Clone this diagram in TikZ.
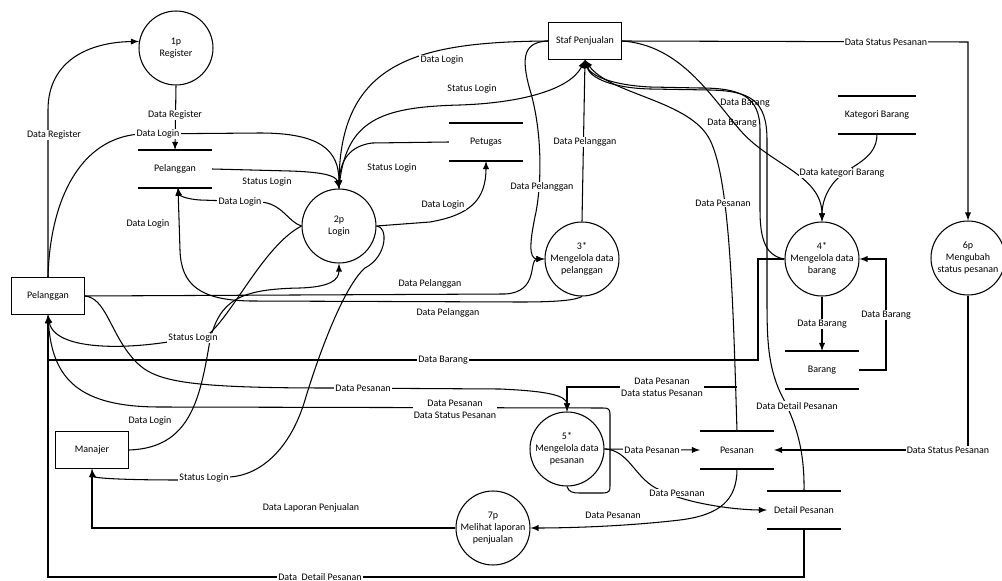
\documentclass[tikz,border=0pt]{standalone}
\usepackage{fontspec}
\setmainfont{Carlito}
\usepackage{tikz}
\usetikzlibrary{shapes.geometric, arrows}

\begin{document}
\begin{tikzpicture}[x=0.02cm, y=-0.02cm, line width=0.6pt, every node/.style={font=\fontsize{5.7}{6.9}\selectfont}]
  \tikzstyle{process} = [circle, draw, minimum size=1.48cm, inner sep=0pt, align=center]
  \tikzstyle{entity} = [rectangle, draw, minimum width=1.46cm, minimum height=0.74cm]
  \tikzstyle{store} = [rectangle, minimum width=1.46cm, minimum height=0.74cm]
  \tikzstyle{arrow} = [draw, -latex]
  \tikzstyle{lbl} = [fill=white, inner sep=0.6pt, align=center]

  \useasboundingbox (0,0) rectangle (1002,581);

  % external entities
  \node (pel) [entity] at (48,296) {Pelanggan};
  \node (mnj) [entity] at (92,450) {Manajer};
  \node (stf) [entity] at (585,41) {Staf Penjualan};

  % processes
  \node (p1) [process] at (176,48) {1p\\Register};
  \node (p2) [process] at (339,226) {2p\\Login};
  \node (p3) [process] at (582,259) {3*\\Mengelola data\\pelanggan};
  \node (p4) [process] at (822,259) {4*\\Mengelola data\\barang};
  \node (p5) [process] at (567,449) {5*\\Mengelola data\\pesanan};
  \node (p6) [process] at (968,258) {6p\\Mengubah\\status pesanan};
  \node (p7) [process] at (493,528) {7p\\Melihat laporan\\penjualan};

  % data stores
  \node (spel) [store] at (175,169) {Pelanggan};
  \node (sptg) [store] at (486,142) {Petugas};
  \node (skat) [store] at (877,115) {Kategori Barang};
  \node (sbrg) [store] at (822,370) {Barang};
  \node (spsn) [store] at (737,450) {Pesanan};
  \node (sdtl) [store] at (804,510) {Detail Pesanan};
  \foreach \s in {spel,sptg,skat,sbrg,spsn,sdtl}
    \draw (\s.north west) -- (\s.north east) (\s.south west) -- (\s.south east);

  % register and login
  \draw [arrow] (pel.north) -- (48,110) .. controls (48,60) and (90,42) .. (p1.170);
  \draw [arrow] (p1.south) -- (spel.north);
  \draw [arrow] (pel.north) .. controls (50,200) and (80,138) .. (140,134) -- (260,133) .. controls (320,133) and (339,150) .. (p2.north);
  \draw [arrow] (spel.east) -- (290,171) .. controls (320,172) and (336,175) .. (p2.north);
  \draw [arrow] (p2.west) .. controls (288,222) and (282,203) .. (260,202) -- (200,200) .. controls (185,199) and (179,195) .. (178,187.5);
  \draw [arrow] (p3.south) .. controls (575,300) and (560,302) .. (520,302) -- (250,301) .. controls (200,300) and (181,285) .. (180,250) -- (178,187.5);
  \draw [arrow] (stf.west) .. controls (420,42) and (340,60) .. (p2.north);
  \draw [arrow] (p2.north) .. controls (345,120) and (380,107) .. (460,105) .. controls (520,103) and (570,90) .. (stf.south);
  \draw [arrow] (sptg.west) -- (372,143) .. controls (350,146) and (340,160) .. (p2.north);
  \draw [arrow] (p2.east) -- (430,222) .. controls (470,215) and (486,200) .. (sptg.south);
  \draw [arrow] (p2.west) .. controls (265,245) and (235,310) .. (210,333) .. controls (150,350) and (55,355) .. (pel.south);
  \draw [arrow] (mnj.east) .. controls (190,448) and (200,400) .. (210,340) .. controls (220,300) and (240,289) .. (300,288) .. controls (330,287) and (339,280) .. (p2.south);
  \draw [arrow] (p2.east) .. controls (388,226) and (388,256) .. (365,268) .. controls (345,285) and (320,350) .. (305,400) .. controls (290,450) and (260,475) .. (230,477) -- (180,480) .. controls (120,480) and (93,478) .. (mnj.south);

  % data pelanggan
  \draw [arrow] (pel.east) -- (505,294) .. controls (540,292) and (528,259) .. (p3.west);
  \draw [arrow] (stf.west) .. controls (525,42) and (520,55) .. (530,90) .. controls (542,130) and (542,180) .. (536,212) .. controls (530,240) and (528,259) .. (p3.west);
  \draw [arrow] (p3.north) -- (stf.south);

  % data barang
  \draw [arrow] (stf.east) .. controls (680,45) and (710,95) .. (740,130) .. controls (770,165) and (822,175) .. (p4.north);
  \draw [arrow] (skat.south) .. controls (877,160) and (850,165) .. (836,180) .. controls (825,192) and (822,205) .. (p4.north);
  \draw [arrow] (p4.west) .. controls (766,256) and (760,240) .. (760,210) -- (760,130) .. controls (760,96) and (740,88) .. (700,88) -- (650,87) .. controls (610,85) and (590,75) .. (stf.south);
  \draw [arrow] (p4.south) -- (sbrg.north);
  \draw [arrow] (sbrg.east) -- (886,370) -- (886,259) -- (p4.east);
  \draw [arrow] (p4.west) -- (758,259) -- (758,360) -- (48,360) -- (pel.south);

  % data pesanan
  \draw [arrow] (spsn.north) .. controls (733,300) and (730,180) .. (710,140) .. controls (690,100) and (610,95) .. (stf.south);
  \draw [arrow] (sdtl.north) .. controls (805,440) and (790,412) .. (780,392) .. controls (768,365) and (767,340) .. (767,300) -- (767,140) .. controls (767,100) and (750,91) .. (710,90) -- (650,89) .. controls (612,88) and (590,78) .. (stf.south);
  \draw [arrow] (stf.east) -- (968,42) -- (p6.north);
  \draw [arrow] (p6.south) -- (968,450) -- (spsn.east);
  \draw [arrow] (737,387) -- (567,387) -- (p5.north);
  \draw [arrow] (pel.east) .. controls (105,298) and (110,330) .. (130,355) .. controls (150,380) and (170,388) .. (330,388) -- (500,389) .. controls (545,391) and (567,395) .. (p5.north);
  \draw [arrow] (p5.south) .. controls (569,492) and (572,493) .. (580,493) -- (603,493) .. controls (609,493) and (610,491) .. (610,486) -- (610,414) .. controls (610,409) and (608,408) .. (603,408) -- (160,407) .. controls (80,407) and (52,380) .. (pel.south);
  \draw [arrow] (p5.east) -- (spsn.west);
  \draw [arrow] (p5.east) .. controls (630,450) and (635,480) .. (660,490) .. controls (690,505) and (740,510) .. (sdtl.west);
  \draw [arrow] (spsn.south) .. controls (737,500) and (720,515) .. (680,520) .. controls (620,527) and (560,528) .. (p7.east);
  \draw [arrow] (p7.west) -- (92,528) -- (mnj.south);
  \draw [arrow] (sdtl.south) -- (804,577) -- (48,577) -- (pel.south);

  % flow labels
  \node [lbl] at (54,135) {Data Register};
  \node [lbl] at (175,115) {Data Register};
  \node [lbl] at (158,134) {Data Login};
  \node [lbl] at (267,182) {Status Login};
  \node [lbl] at (240,202) {Data Login};
  \node [lbl] at (148,224) {Data Login};
  \node [lbl] at (442,60) {Data Login};
  \node [lbl] at (472,89) {Status Login};
  \node [lbl] at (392,168) {Status Login};
  \node [lbl] at (443,205) {Data Login};
  \node [lbl] at (542,187) {Data Pelanggan};
  \node [lbl] at (585,142) {Data Pelanggan};
  \node [lbl] at (430,284) {Data Pelanggan};
  \node [lbl] at (448,313) {Data Pelanggan};
  \node [lbl] at (886,42) {Data Status Pesanan};
  \node [lbl, fill=none] at (745,103) {Data Barang};
  \node [lbl, fill=none] at (732,123) {Data Barang};
  \node [lbl] at (842,173) {Data kategori Barang};
  \node [lbl] at (723,203) {Data Pesanan};
  \node [lbl] at (822,324) {Data Barang};
  \node [lbl] at (886,315) {Data Barang};
  \node [lbl] at (797,406) {Data Detail Pesanan};
  \node [lbl] at (193,338) {Status Login};
  \node [lbl] at (443,360) {Data Barang};
  \node [lbl] at (363,388) {Data Pesanan};
  \node [lbl] at (455,409) {Data Pesanan\\Data Status Pesanan};
  \node [lbl] at (662,387) {Data Pesanan\\Data status Pesanan};
  \node [lbl] at (150,421) {Data Login};
  \node [lbl] at (652,450) {Data Pesanan};
  \node [lbl] at (948,450) {Data Status Pesanan};
  \node [lbl] at (677,493) {Data Pesanan};
  \node [lbl] at (204,478) {Status Login};
  \node [lbl] at (311,508) {Data Laporan Penjualan};
  \node [lbl] at (613,515) {Data Pesanan};
  \node [lbl] at (320,577) {Data~ Detail Pesanan};
\end{tikzpicture}
\end{document}
